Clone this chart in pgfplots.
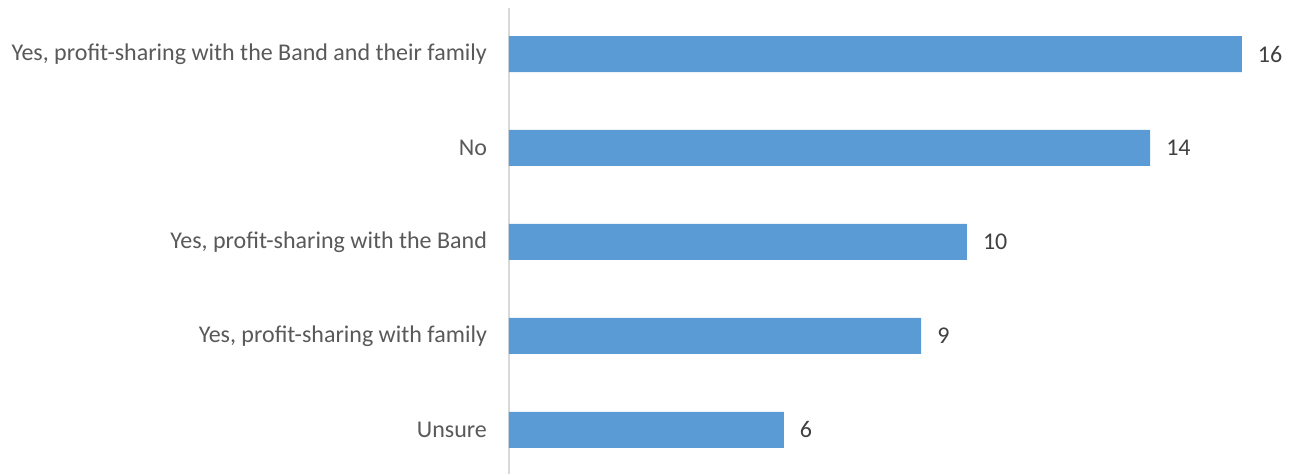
\documentclass[border=0pt]{standalone}
\usepackage{pgfplots}
\pgfplotsset{compat=1.18}
\usepackage{fontspec}
\setmainfont{Carlito}
\definecolor{barblue}{HTML}{5B9BD5}
\definecolor{axisgray}{HTML}{D9D9D9}
\definecolor{labgray}{HTML}{595959}
\definecolor{valgray}{HTML}{404040}
\begin{document}
\begin{tikzpicture}
\path[use as bounding box] (-254.5pt,0) rectangle (392.5pt,237pt);
\begin{axis}[
    xbar,
    scale only axis,
    width=392.5pt, height=233pt,
    xmin=0, xmax=17.14,
    ymin=-0.47, ymax=4.49,
    bar width=18pt,
    axis x line=none,
    axis y line*=left,
    y axis line style={axisgray, line width=0.8pt},
    ytick={0,1,2,3,4},
    yticklabels={Unsure, {Yes, profit-sharing with family}, {Yes, profit-sharing with the Band}, No, {Yes, profit-sharing with the Band and their family}},
    major tick length=0pt,
    yticklabel style={font=\fontsize{12}{14}\selectfont, text=labgray, xshift=-7.5pt},
    nodes near coords,
    nodes near coords style={font=\fontsize{12}{14}\selectfont, text=valgray, xshift=4.5pt},
    /pgf/number format/assume math mode=true,
    point meta=x,
    clip=false,
]
\addplot[fill=barblue, draw=none] coordinates {
    (6,0) (9,1) (10,2) (14,3) (16,4)
};
\end{axis}
\end{tikzpicture}
\end{document}
